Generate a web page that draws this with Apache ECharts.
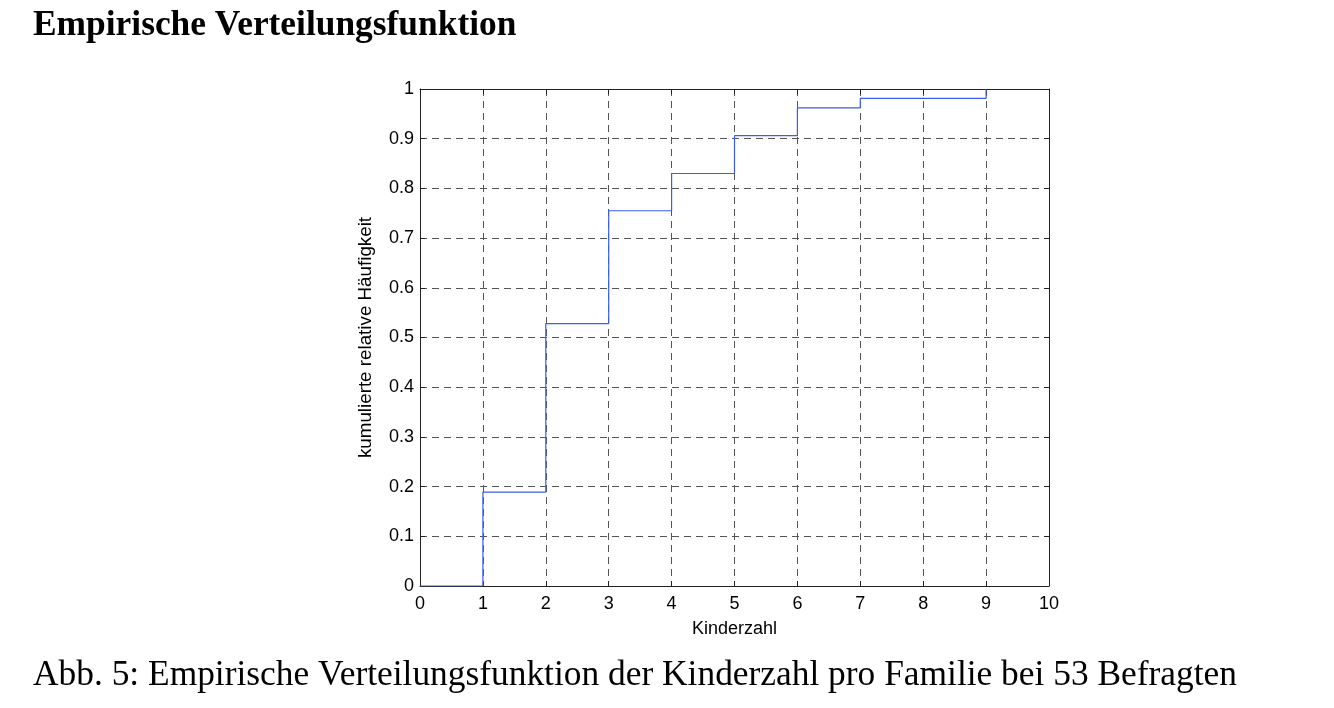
<!DOCTYPE html>
<html>
<head>
<meta charset="utf-8">
<script src="https://cdn.jsdelivr.net/npm/echarts@6/dist/echarts.min.js"></script>
<style>
html,body{margin:0;padding:0;background:#fff;}
#c{width:1334px;height:708px;}
</style>
</head>
<body>
<div id="c"></div>
<script>
const titleText = 'Empirische Verteilungsfunktion';
const captionText = 'Abb. 5: Empirische Verteilungsfunktion der Kinderzahl pro Familie bei 53 Befragten';
const xName = 'Kinderzahl';
const yName = 'kumulierte relative Häufigkeit';
const kinderzahl = [0, 1, 2, 3, 4, 5, 6, 7, 9];
const kumuliert = [0, 0.189, 0.528, 0.755, 0.830, 0.906, 0.962, 0.981, 1.0];
const xTicks = [0,1,2,3,4,5,6,7,8,9,10];
const yTicks = [0,0.1,0.2,0.3,0.4,0.5,0.6,0.7,0.8,0.9,1];

const chart = echarts.init(document.getElementById('c'));
const gridDash = {color:'#555', type:[7,5], width:1};
const tickFont = {fontFamily:'Liberation Sans, Arial, sans-serif', fontSize:18, color:'#000'};
chart.setOption({
  animation:false,
  backgroundColor:'#fff',
  title:[
    {text:titleText, left:28, top:3, textStyle:{fontFamily:'Liberation Serif, Times New Roman, serif', fontWeight:'bold', fontSize:35.4, color:'#000'}},
    {text:captionText, left:28, top:653, textStyle:{fontFamily:'Liberation Serif, Times New Roman, serif', fontWeight:'normal', fontSize:35.4, color:'#000'}}
  ],
  grid:{left:420, right:285, top:89, bottom:122, containLabel:false},
  xAxis:[{
    type:'value', min:0, max:10, interval:1, position:'bottom',
    name:xName, nameLocation:'middle', nameGap:34,
    nameTextStyle:{fontFamily:'Liberation Sans, Arial, sans-serif', fontSize:18, color:'#000'},
    axisLine:{show:true, onZero:false, lineStyle:{color:'#222', width:1}},
    axisTick:{show:true, inside:true, length:5, lineStyle:{color:'#222'}},
    axisLabel:Object.assign({margin:9, formatter:v=>String(v)}, tickFont),
    splitLine:{show:true, lineStyle:gridDash}
  },{
    type:'value', min:0, max:10, interval:1, position:'top',
    axisLine:{show:true, onZero:false, lineStyle:{color:'#222', width:1}},
    axisTick:{show:true, inside:true, length:5, lineStyle:{color:'#222'}},
    axisLabel:{show:false}, splitLine:{show:false}
  }],
  yAxis:[{
    type:'value', min:0, max:1, interval:0.1, position:'left',
    name:yName, nameLocation:'middle', nameGap:45, nameRotate:90,
    nameTextStyle:{fontFamily:'Liberation Sans, Arial, sans-serif', fontSize:18.8, color:'#000'},
    axisLine:{show:true, onZero:false, lineStyle:{color:'#222', width:1}},
    axisTick:{show:true, inside:true, length:5, lineStyle:{color:'#222'}},
    axisLabel:Object.assign({margin:6, formatter:v=>{const r=Math.round(v*10)/10; return String(r);}}, tickFont),
    splitLine:{show:true, lineStyle:gridDash}
  },{
    type:'value', min:0, max:1, interval:0.1, position:'right',
    axisLine:{show:true, onZero:false, lineStyle:{color:'#222', width:1}},
    axisTick:{show:true, inside:true, length:5, lineStyle:{color:'#222'}},
    axisLabel:{show:false}, splitLine:{show:false}
  }],
  series:[{
    type:'line', step:'end', xAxisIndex:0, yAxisIndex:0,
    data:kinderzahl.map((x,i)=>[x, kumuliert[i]]),
    showSymbol:false, symbol:'none',
    lineStyle:{color:'#3a5cf5', width:1.2},
    z:5
  }]
});
</script>
</body>
</html>
